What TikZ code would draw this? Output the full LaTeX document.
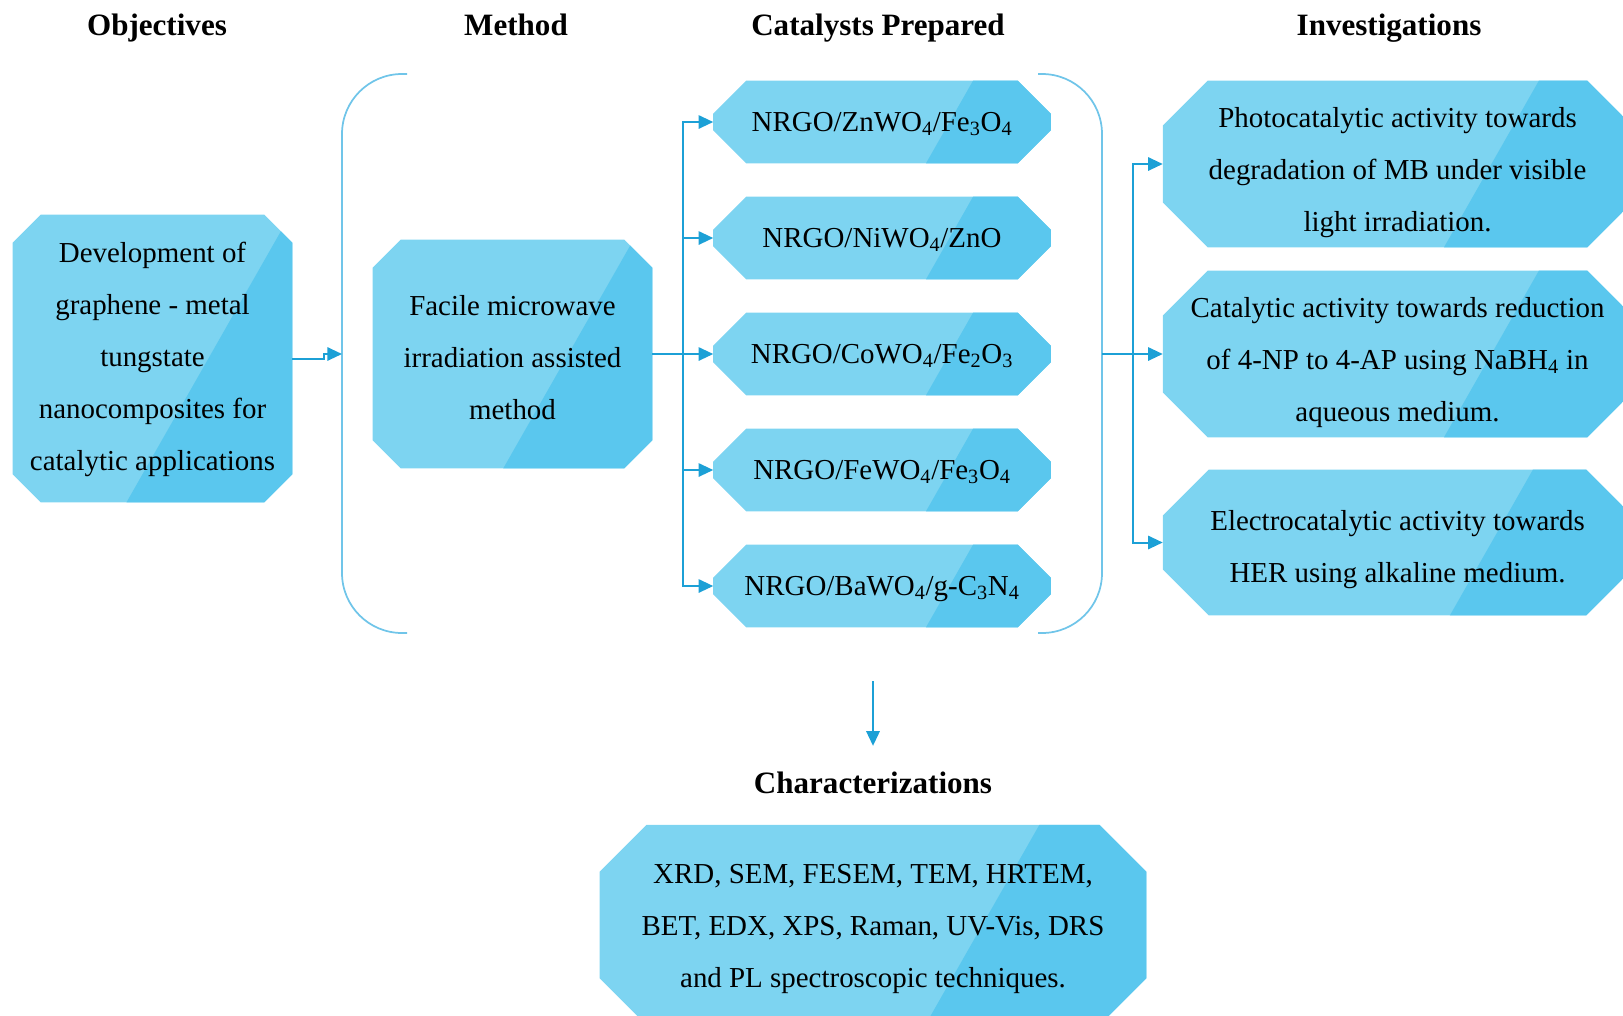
\documentclass[tikz,border=0pt]{standalone}
\usepackage{fontspec}
\setmainfont{Liberation Serif}
\usetikzlibrary{arrows.meta,calc,backgrounds}

\definecolor{boxlight}{RGB}{125,212,241}
\definecolor{boxdark}{RGB}{90,199,238}
\definecolor{flowcolor}{RGB}{28,160,214}
\definecolor{bracecolor}{RGB}{112,197,233}

% struts that set the text a little below the box centre
\newcommand{\lift}[1]{\rule{0pt}{\dimexpr 8pt+#1pt*3/2\relax}}
\newcommand{\sink}{\rule[-8pt]{0pt}{8pt}}

\begin{document}
\begin{tikzpicture}[x=0.75pt,y=-0.75pt]
  % Local definitions
  \def\px{0.75pt}

  % Styles
  \tikzset{
    octbox/.style={rectangle, inner sep=0pt, align=center,
      font=\fontsize{21.7}{39}\selectfont},
    octfill/.style={fill=boxlight,
      path picture={
        \coordinate (split) at ($(path picture bounding box.west)!0.7!(path picture bounding box.east)$);
        \fill[boxdark] ($(split)+(131,-230)$) -- ($(split)+(700,-230)$)
          -- ($(split)+(700,230)$) -- ($(split)+(-131,230)$) -- cycle;
      }},
    head/.style={font=\fontsize{23.3}{28}\selectfont\bfseries, inner sep=0pt, anchor=base},
    flow/.style={draw=flowcolor, line width=1.5pt,
      -{Triangle[length=11pt,width=10pt]}, flowcolor},
    brace/.style={draw=bracecolor, line width=1.3pt, rounded corners=45pt}
  }

  \useasboundingbox (0,0) rectangle (1623,1015);
  \clip (0,0) rectangle (1623,1015);

  % Headings
  \node[head] (hobj) at (157,35) {Objectives};
  \node[head] (hmeth) at (516,35) {Method};
  \node[head] (hcat) at (878,35) {Catalysts Prepared};
  \node[head] (hinv) at (1389,35) {Investigations};
  \node[head] (hchar) at (873,793) {Characterizations};

  % Boxes
  \node[octbox, minimum width=279*\px, minimum height=287*\px] (obj) at (152.5,358.5)
    {\lift{8}Development of\\graphene - metal\\tungstate\\nanocomposites for\\catalytic applications\sink};
  \node[octbox, minimum width=279*\px, minimum height=228*\px] (meth) at (512.5,354)
    {\lift{13}Facile microwave\\irradiation assisted\\method\sink};

  \foreach \i/\y/\txt in {
      1/122/{NRGO/ZnWO\textsubscript{4}/Fe\textsubscript{3}O\textsubscript{4}},
      2/238/{NRGO/NiWO\textsubscript{4}/ZnO},
      3/354/{NRGO/CoWO\textsubscript{4}/Fe\textsubscript{2}O\textsubscript{3}},
      4/470/{NRGO/FeWO\textsubscript{4}/Fe\textsubscript{3}O\textsubscript{4}},
      5/586/{NRGO/BaWO\textsubscript{4}/g-C\textsubscript{3}N\textsubscript{4}}}
    \node[octbox, minimum width=337*\px, minimum height=82*\px] (cat\i) at (882,\y)
      {\lift{9.5}\txt\sink};

  \node[octbox, minimum width=469*\px, minimum height=166*\px] (inv1) at (1397.5,164)
    {\lift{15.5}Photocatalytic activity towards\\degradation of MB under visible\\light irradiation.\sink};
  \node[octbox, minimum width=469*\px, minimum height=166*\px] (inv2) at (1397.5,354)
    {\lift{15.5}Catalytic activity towards reduction\\of 4-NP to 4-AP using NaBH\textsubscript{4} in\\aqueous medium.\sink};
  \node[octbox, minimum width=469*\px, minimum height=145*\px] (inv3) at (1397.5,542.5)
    {\lift{13.5}Electrocatalytic activity towards\\HER using alkaline medium.\sink};

  \node[octbox, minimum width=546*\px, minimum height=200*\px] (char) at (873,925)
    {\lift{10.5}XRD, SEM, FESEM, TEM, HRTEM,\\BET, EDX, XPS, Raman, UV-Vis, DRS\\and PL spectroscopic techniques.\sink};

  % Octagon backgrounds
  \begin{scope}[on background layer]
    \clip (0,0) rectangle (1623,1015);
    \foreach \n/\c in {obj/28, meth/28, cat1/33, cat2/33, cat3/33, cat4/33, cat5/33,
                       inv1/45, inv2/45, inv3/46, char/47}
      \path[octfill] ($(\n.north west)+(\c,0)$) -- ($(\n.north east)+(-\c,0)$)
        -- ($(\n.north east)+(0,\c)$) -- ($(\n.south east)+(0,-\c)$)
        -- ($(\n.south east)+(-\c,0)$) -- ($(\n.south west)+(\c,0)$)
        -- ($(\n.south west)+(0,-\c)$) -- ($(\n.north west)+(0,\c)$) -- cycle;
  \end{scope}

  % Brackets
  \draw[brace] (407,74) -- (342,74) -- (342,633) -- (407,633);
  \draw[brace] (1038,74) -- (1102,74) -- (1102,633) -- (1038,633);

  \coordinate (lb) at (342,354);
  \coordinate (rb) at (1102,354);
  \coordinate (catfork) at (683,354);
  \coordinate (invfork) at (1133,354);
  \coordinate (dnstart) at (873,681);

  % Connectors
  \draw[flow] (obj.east) -| ($(lb)+(-18,0)$) -- (lb);
  \foreach \i in {1,...,5}
    \draw[flow] (meth.east) -- (catfork) |- (cat\i.west);
  \foreach \i in {1,2,3}
    \draw[flow] (rb) -- (invfork) |- (inv\i.west);
  \draw[flow, shorten >=19pt] (dnstart) -- (hchar.north);
\end{tikzpicture}
\end{document}
